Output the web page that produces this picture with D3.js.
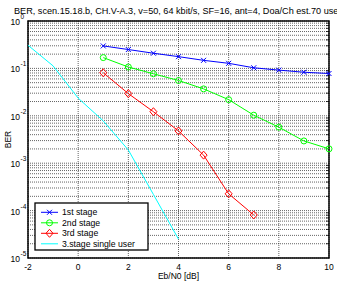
<!DOCTYPE html>
<html>
<head>
<meta charset="utf-8">
<script src="https://cdn.jsdelivr.net/npm/d3@7"></script>
<style>
  body { margin: 0; background: #fff; overflow: hidden; }
  text { font-family: "Liberation Sans", Arial, sans-serif; }
</style>
</head>
<body>
<div id="chart"></div>
<script>
var width = 337, height = 284
var margin = {left: 28, right: 8, top: 21, bottom: 26}

// data
var ebn0 = [1, 2, 3, 4, 5, 6, 7, 8, 9, 10]
var stage1 = [0.298, 0.25, 0.209, 0.177, 0.148, 0.128, 0.103, 0.092, 0.083, 0.078]
var stage2 = [0.169, 0.107, 0.077, 0.0556, 0.037, 0.0219, 0.0103, 0.00575, 0.00295, 0.00201]
var ebn0Red = [1, 2, 3, 4, 5, 6, 7]
var stage3 = [0.081, 0.0294, 0.0122, 0.0048, 0.00148, 0.000226, 0.000081]
var ebn0Single = [-2, -1, 0, 1, 2, 3, 4]
var single = [0.308, 0.113, 0.0236, 0.0078, 0.0019, 0.000219, 0.000025]

var xTicks = [-2, 0, 2, 4, 6, 8, 10]
var yExps = [0, -1, -2, -3, -4, -5]
var title = 'BER, scen.15.18.b, CH.V-A.3, v=50, 64 kbit/s, SF=16, ant=4, Doa/Ch est.70 users'
var legendNames = ['1st stage', '2nd stage', '3rd stage', '3.stage single user']

var svg = d3.select('#chart')
  .append('svg')
  .attr('width', width)
  .attr('height', height)

var x = d3.scaleLinear()
  .domain([-2, 10])
  .range([margin.left, width - margin.right])
var y = d3.scaleLog()
  .domain([1e-5, 1])
  .range([height - margin.bottom, margin.top])

var x0 = x.range()[0], x1 = x.range()[1]
var y0 = y.range()[0], y1 = y.range()[1]

// grid
var minor = []
yExps.slice(1).forEach(e => {
  for (var k = 2; k <= 9; k++) minor.push(k * Math.pow(10, e))
})
var grid = svg.append('g')
  .attr('stroke', '#222')
  .attr('stroke-width', 0.7)
  .attr('stroke-dasharray', '1,1')
grid.selectAll('.gy')
  .data(minor.concat(yExps.map(e => Math.pow(10, e))))
  .enter().append('line')
  .attr('x1', x0).attr('x2', x1)
  .attr('y1', d => y(d)).attr('y2', d => y(d))
grid.selectAll('.gx')
  .data(xTicks)
  .enter().append('line')
  .attr('x1', d => x(d)).attr('x2', d => x(d))
  .attr('y1', y0).attr('y2', y1)

// inner ticks on right side
svg.append('g').selectAll('line')
  .data(minor)
  .enter().append('line')
  .attr('x1', x1 - 3).attr('x2', x1)
  .attr('y1', d => y(d)).attr('y2', d => y(d))
  .attr('stroke', '#000').attr('stroke-width', 0.8)

// frame
svg.append('rect')
  .attr('x', x0).attr('y', y1)
  .attr('width', x1 - x0).attr('height', y0 - y1)
  .attr('fill', 'none')
  .attr('stroke', '#000')
  .attr('stroke-width', 1.5)

// x tick labels
svg.append('g').selectAll('text')
  .data(xTicks)
  .enter().append('text')
  .attr('x', d => x(d))
  .attr('y', y0 + 12)
  .attr('text-anchor', 'middle')
  .attr('font-size', 8.5)
  .text(d => d)

// y tick labels 10^e
var yl = svg.append('g').selectAll('g')
  .data(yExps)
  .enter().append('g')
yl.append('text')
  .attr('x', 20)
  .attr('y', d => y(Math.pow(10, d)) + 4)
  .attr('text-anchor', 'end')
  .attr('font-size', 8.5)
  .text('10')
yl.append('text')
  .attr('x', 20.5)
  .attr('y', d => y(Math.pow(10, d)) - 2)
  .attr('font-size', 6.5)
  .text(d => d === 0 ? '0' : '-' + Math.abs(d))

// axis titles
svg.append('text')
  .attr('x', (x0 + x1) / 2)
  .attr('y', height - 5)
  .attr('text-anchor', 'middle')
  .attr('font-size', 8.5)
  .text('Eb/N0 [dB]')
svg.append('text')
  .attr('transform', `translate(11,${(y0 + y1) / 2}) rotate(-90)`)
  .attr('text-anchor', 'middle')
  .attr('font-size', 8.5)
  .text('BER')
svg.append('text')
  .attr('x', 14)
  .attr('y', 14)
  .attr('font-size', 9.15)
  .text(title)

// series
var series = [
  {xs: ebn0, ys: stage1, color: '#0000ff', marker: 'x'},
  {xs: ebn0, ys: stage2, color: '#00ff00', marker: 'o'},
  {xs: ebn0Red, ys: stage3, color: '#ff0000', marker: 'd'},
  {xs: ebn0Single, ys: single, color: '#00ffff', marker: ''}
]
var line = d3.line().x(d => x(d[0])).y(d => y(d[1]))

function drawMarker(g, kind, px, py, color) {
  if (kind === 'x') {
    g.append('path')
      .attr('d', `M${px-2.5},${py-2.5}L${px+2.5},${py+2.5}M${px-2.5},${py+2.5}L${px+2.5},${py-2.5}`)
      .attr('stroke', color).attr('stroke-width', 1)
  } else if (kind === 'o') {
    g.append('circle')
      .attr('cx', px).attr('cy', py).attr('r', 3)
      .attr('fill', 'none').attr('stroke', color).attr('stroke-width', 1)
  } else if (kind === 'd') {
    g.append('path')
      .attr('d', `M${px},${py-4}L${px+3.5},${py}L${px},${py+4}L${px-3.5},${py}Z`)
      .attr('fill', 'none').attr('stroke', color).attr('stroke-width', 1)
  }
}

series.forEach(s => {
  var pts = s.xs.map((v, i) => [v, s.ys[i]])
  var g = svg.append('g')
  g.append('path')
    .attr('d', line(pts))
    .attr('fill', 'none')
    .attr('stroke', s.color)
    .attr('stroke-width', 1)
  pts.forEach(p => drawMarker(g, s.marker, x(p[0]), y(p[1]), s.color))
})

// legend
var lg = svg.append('g')
lg.append('rect')
  .attr('x', 35).attr('y', 203)
  .attr('width', 113).attr('height', 47)
  .attr('fill', '#fff')
  .attr('stroke', '#000')
  .attr('stroke-width', 1.3)
legendNames.forEach((name, i) => {
  var ly = 212.3 + i * 10.5
  lg.append('line')
    .attr('x1', 41).attr('x2', 58)
    .attr('y1', ly).attr('y2', ly)
    .attr('stroke', series[i].color).attr('stroke-width', 1)
  drawMarker(lg, series[i].marker, 49.5, ly, series[i].color)
  lg.append('text')
    .attr('x', 62).attr('y', ly + 3)
    .attr('font-size', 8.7)
    .text(name)
})
</script>
</body>
</html>
